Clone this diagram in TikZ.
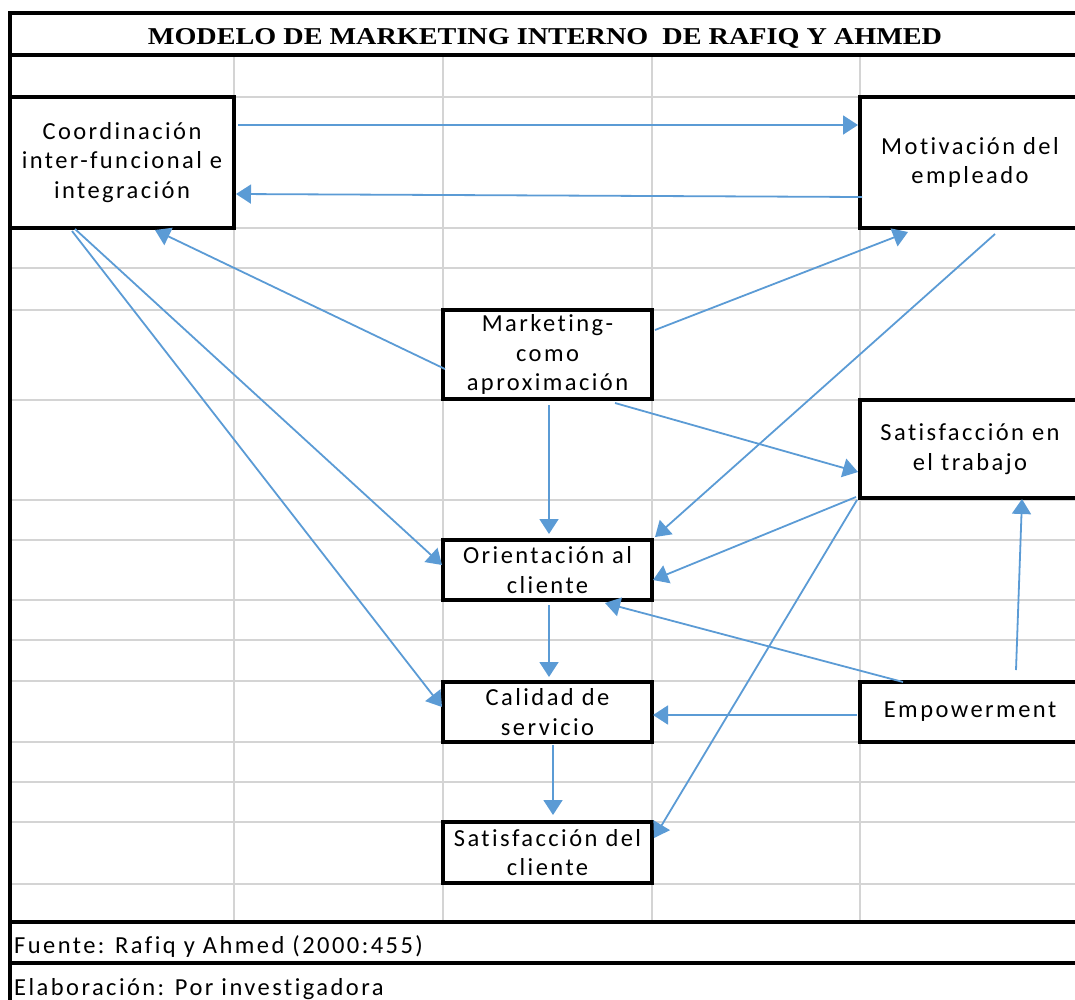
\documentclass[tikz,border=0pt]{standalone}
\usepackage{fontspec}
\setmainfont{Carlito}
\newfontfamily\boxfont[LetterSpace=10,Ligatures=NoCommon]{Carlito}
\newfontfamily\titlefont{Liberation Serif}
\usetikzlibrary{arrows.meta,calc}
\definecolor{arrowblue}{HTML}{5B9BD5}
\definecolor{gridgray}{HTML}{D4D4D4}
\tikzset{
  cellbox/.style={draw=black, line width=3.6pt, fill=white, inner sep=0pt, outer sep=0pt,
    align=center, font=\boxfont\fontsize{24.5}{29.5}\selectfont},
  link/.style={draw=arrowblue, line width=1.8pt, -{Triangle[length=15pt,width=19pt]}},
  gridline/.style={draw=gridgray, line width=2pt},
  frameline/.style={draw=black, line width=3.8pt},
  foot/.style={font=\boxfont\fontsize{24.5}{28}\selectfont, anchor=base west, inner sep=0pt}
}
\begin{document}
\begin{tikzpicture}[x=1pt,y=-1pt]
\useasboundingbox (0,0) rectangle (1075,999);
% grid
\foreach \gx in {234,443,652,860} \draw[gridline] (\gx,55) -- (\gx,922);
\foreach \gy in {97,228,268,310,400,500,540,600,640,681,742,782,822,884} \draw[gridline] (10,\gy) -- (1085,\gy);
% boxes
\node[cellbox, minimum width=224pt, minimum height=131pt] (coord) at (122,162.5) {Coordinación\\inter-funcional e\\integración};
\node[cellbox, minimum width=220pt, minimum height=131pt] (motiv) at (970,162.5) {Motivación del\\empleado};
\node[cellbox, minimum width=209pt, minimum height=89pt] (market) at (547.5,354.5) {Marketing-\\como\\aproximación};
\node[cellbox, minimum width=220pt, minimum height=98pt] (sattrab) at (970,449) {Satisfacción en\\el trabajo};
\node[cellbox, minimum width=209pt, minimum height=60pt] (orient) at (547.5,570) {Orientación al\\cliente};
\node[cellbox, minimum width=209pt, minimum height=60pt] (calidad) at (547.5,712) {Calidad de\\servicio};
\node[cellbox, minimum width=209pt, minimum height=61pt] (satcli) at (547.5,852.5) {Satisfacción del\\cliente};
\node[cellbox, minimum width=220pt, minimum height=60pt] (empow) at (970,712) {Empowerment};
% connectors
\draw[link] ($(coord.north east)+(4,28)$) -- ($(motiv.north west)+(-2,28)$);
\draw[link] ($(motiv.north west)+(2,100)$) -- ($(coord.north east)+(2,97)$);
\draw[link] ($(market.north west)+(2,59)$) -- ($(coord.south west)+(145,2)$);
\draw[link] ($(market.north east)+(3,20)$) -- ($(motiv.south west)+(48,4)$);
\draw[link] ($(market.south west)+(106,6)$) -- ($(orient.north west)+(106,-6)$);
\draw[link] ($(market.south west)+(172,4)$) -- ($(sattrab.north west)+(-2,72)$);
\draw[link] ($(motiv.south west)+(135,6)$) -- ($(orient.north east)+(3,-3)$);
\draw[link] ($(coord.south west)+(65,1)$) -- ($(orient.north west)+(-1,25)$);
\draw[link] ($(coord.south west)+(62,3)$) -- ($(calidad.north west)+(-1,25)$);
\draw[link] ($(sattrab.south west)+(-4,-1)$) -- ($(orient.north east)+(1,40)$);
\draw[link] ($(sattrab.south west)+(-3,2)$) -- ($(satcli.north east)+(2,16)$);
\draw[link] ($(empow.north west)+(43,0)$) -- ($(orient.south west)+(162,3)$);
\draw[link] ($(empow.north west)+(-3,33)$) -- ($(calidad.north east)+(1,33)$);
\draw[link] ($(empow.north west)+(156,-12)$) -- ($(sattrab.south west)+(162,1)$);
\draw[link] ($(orient.south west)+(106,5)$) -- ($(calidad.north west)+(106,-5)$);
\draw[link] ($(calidad.south west)+(110,3)$) -- ($(satcli.north west)+(110,-7)$);
% frame
\draw[frameline] (8,13) -- (1085,13);
\draw[frameline] (10,55) -- (1085,55);
\draw[frameline] (10,922) -- (1085,922);
\draw[frameline] (10,963) -- (1085,963);
\draw[frameline] (10,11) -- (10,1005);
% texts
\node[inner sep=0pt, anchor=base] (title) at (545,44) {\resizebox{794pt}{16pt}{\titlefont\bfseries MODELO DE MARKETING INTERNO\ \ DE RAFIQ Y AHMED}};
\node[foot] (fuente) at (14,953) {Fuente: Rafiq y Ahmed (2000:455)};
\node[foot] (elab) at (14,995) {Elaboración: Por investigadora};
\end{tikzpicture}
\end{document}
